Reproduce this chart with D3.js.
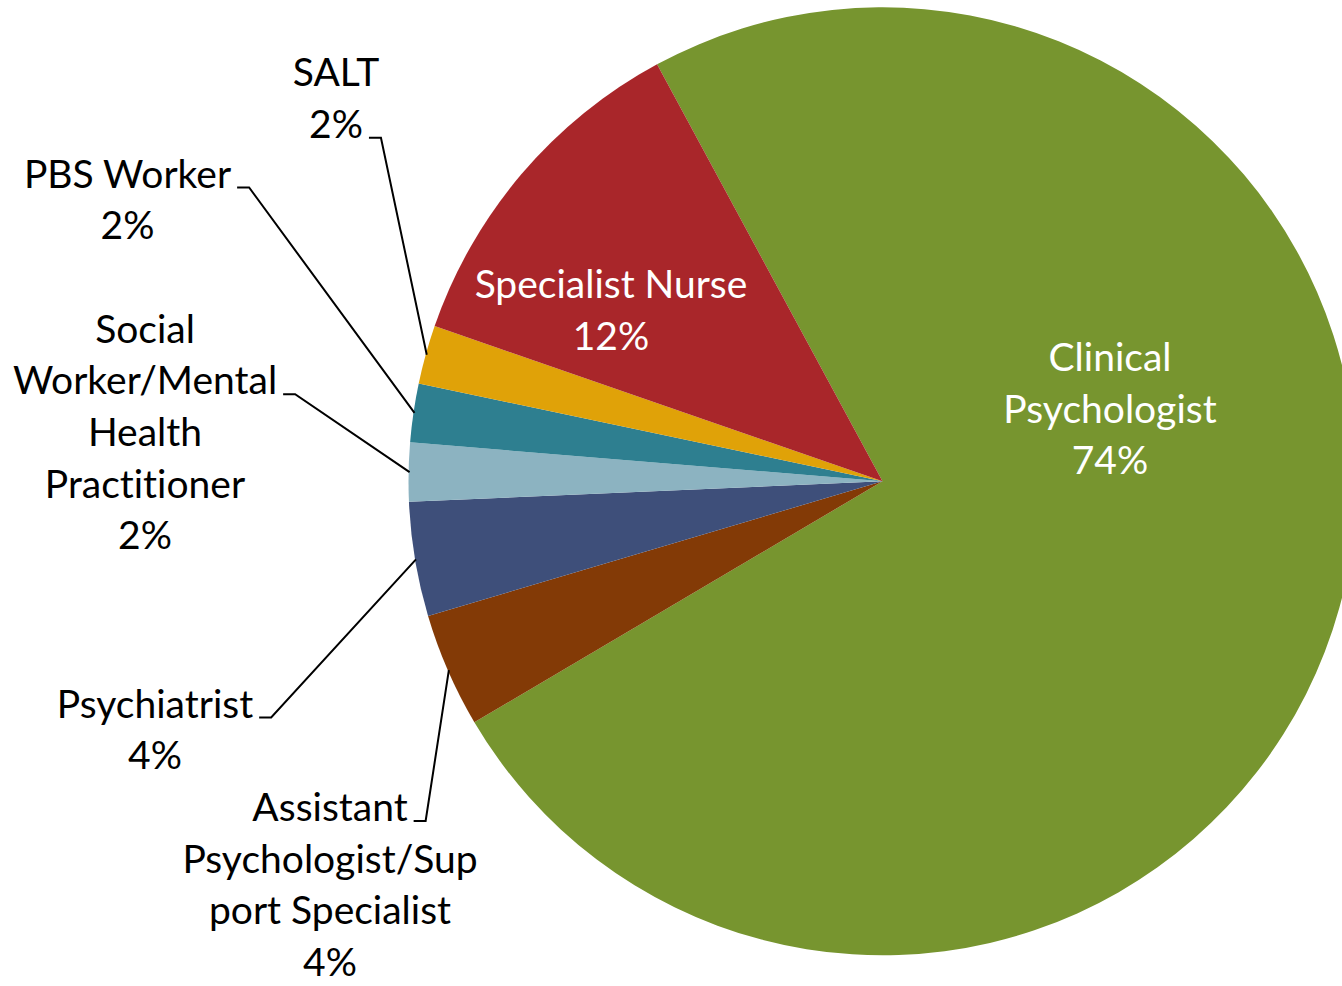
<!DOCTYPE html>
<html>
<head>
<meta charset="utf-8">
<script src="https://cdn.jsdelivr.net/npm/d3@7"></script>
<style>
  body { margin: 0; background: #fff; }
  text { font-family: Lato, "Open Sans", sans-serif; font-variant-ligatures: none; }
</style>
</head>
<body>
<div id="chart"></div>
<script>
// slices, clockwise from the first one
var categories = ['Clinical Psychologist', 'Assistant Psychologist/Support Specialist', 'Psychiatrist',
  'Social Worker/Mental Health Practitioner', 'PBS Worker', 'SALT', 'Specialist Nurse'];
var shares = [74.4, 3.9, 3.9, 2.0, 2.0, 2.0, 11.8];
// how each category name is wrapped in the label
var labelLines = [
  ['Clinical', 'Psychologist'],
  ['Assistant', 'Psychologist/Sup', 'port Specialist'],
  ['Psychiatrist'],
  ['Social', 'Worker/Mental', 'Health', 'Practitioner'],
  ['PBS Worker'],
  ['SALT'],
  ['Specialist Nurse']
];
var colors = ['#77952f', '#833a06', '#3e4f7a', '#8cb3c1', '#2e7f90', '#e0a208', '#a9262a'];

var width = 1342;
var height = 986;
var cx = 882.5, cy = 481.3, radius = 474;
var fontSize = 39;
var lineGap = 51.7;
var start = -28.4 * Math.PI / 180;

// where each label sits (x = centre of text block, y = first baseline);
// hook = which line the leader line leaves from
var labelLayout = [
  { x: 1110, y: 371, inside: true },
  { x: 330, y: 821, hook: 0 },
  { x: 155, y: 717.5, hook: 0 },
  { x: 145, y: 342.5, hook: 1 },
  { x: 127.5, y: 187.5, hook: 0 },
  { x: 336, y: 86, hook: 1 },
  { x: 611, y: 298, inside: true }
];

var data = categories.map(function(c, i) {
  return { name: c, value: shares[i], lines: labelLines[i].concat(Math.round(shares[i]) + '%'), layout: labelLayout[i] };
});

var color = d3.scaleOrdinal().domain(categories).range(colors);

var pie = d3.pie()
  .sort(null)
  .value(function(d) { return d.value; })
  .startAngle(start)
  .endAngle(start + 2 * Math.PI);

var arc = d3.arc().innerRadius(0).outerRadius(radius);
var rim = d3.arc().innerRadius(radius - 1).outerRadius(radius - 1);

var svg = d3.select('#chart')
  .append('svg')
    .attr('width', width)
    .attr('height', height);

var g = svg.append('g')
  .attr('transform', 'translate(' + cx + ',' + cy + ')');

var arcs = pie(data);

g.selectAll('path.slice')
  .data(arcs).enter()
  .append('path')
    .attr('class', 'slice')
    .attr('d', arc)
    .attr('fill', function(d) { return color(d.data.name); });

var labels = svg.append('g');

arcs.forEach(function(d) {
  var L = d.data.layout;
  var t = labels.append('text')
    .attr('text-anchor', 'middle')
    .attr('font-size', fontSize)
    .attr('fill', L.inside ? '#fff' : '#000');

  var spans = d.data.lines.map(function(line, j) {
    return t.append('tspan')
      .attr('x', L.x)
      .attr('y', L.y + j * lineGap)
      .text(line);
  });

  if (!L.inside) {
    var hookLen = spans[L.hook].node().getComputedTextLength();
    var x0 = L.x + hookLen / 2 + 6;
    var yb = L.y + L.hook * lineGap;
    var p = rim.centroid(d);
    labels.append('path')
      .attr('d', 'M' + x0 + ',' + yb + 'H' + (x0 + 12) + 'L' + (p[0] + cx) + ',' + (p[1] + cy))
      .attr('fill', 'none')
      .attr('stroke', '#000')
      .attr('stroke-width', 2);
  }
});
</script>
</body>
</html>
